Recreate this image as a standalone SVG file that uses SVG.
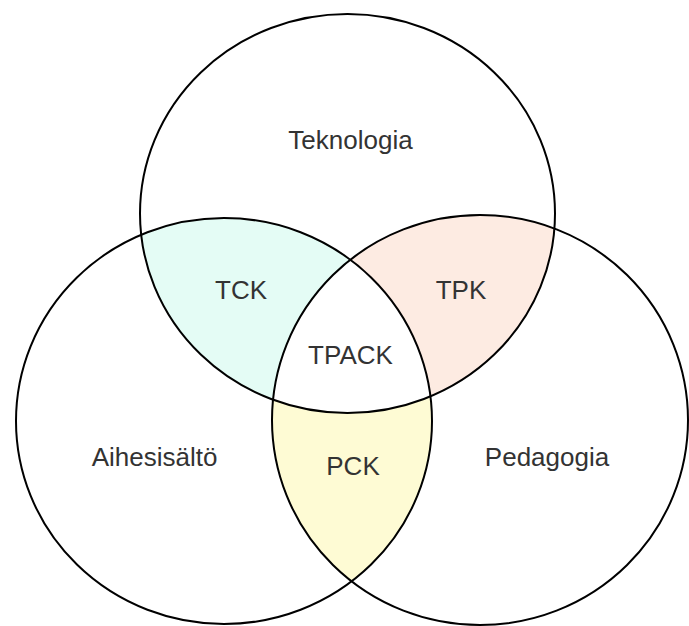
<svg xmlns="http://www.w3.org/2000/svg" width="689" height="626" viewBox="0 0 689 626">
  <style>
    .ring { fill: none; stroke: #000; stroke-width: 2; }
    .lbl { font-family: "Liberation Sans", Arial, sans-serif; font-size: 26px; fill: #333; text-anchor: middle; }
  </style>
  <defs>
    <clipPath id="clipTop"><ellipse cx="347.5" cy="213.5" rx="207.5" ry="199.5"/></clipPath>
    <clipPath id="clipRight"><ellipse cx="480" cy="420" rx="208" ry="205"/></clipPath>
  </defs>
  <rect width="689" height="626" fill="#fff"/>
  <g id="regions">
    <ellipse cx="224" cy="421" rx="208" ry="203" fill="#fefbd4" clip-path="url(#clipRight)"/>
    <g clip-path="url(#clipTop)">
      <ellipse cx="224" cy="421" rx="208" ry="203" fill="#e4fcf5"/>
      <ellipse cx="480" cy="420" rx="208" ry="205" fill="#fdebe2"/>
      <g clip-path="url(#clipRight)">
        <ellipse cx="224" cy="421" rx="208" ry="203" fill="#fff"/>
      </g>
    </g>
  </g>
  <g id="teknologia">
    <ellipse class="ring" cx="347.5" cy="213.5" rx="207.5" ry="199.5"/>
    <text class="lbl" x="350.5" y="149">Teknologia</text>
  </g>
  <g id="aihesisalto">
    <ellipse class="ring" cx="224" cy="421" rx="208" ry="203"/>
    <text class="lbl" x="154.5" y="466">Aihesisältö</text>
  </g>
  <g id="pedagogia">
    <ellipse class="ring" cx="480" cy="420" rx="208" ry="205"/>
    <text class="lbl" x="547" y="466">Pedagogia</text>
  </g>
  <g id="tck"><text class="lbl" x="241" y="299">TCK</text></g>
  <g id="tpk"><text class="lbl" x="461" y="299">TPK</text></g>
  <g id="tpack"><text class="lbl" x="350.5" y="364">TPACK</text></g>
  <g id="pck"><text class="lbl" x="353" y="475">PCK</text></g>
  <g id="connectors"/>
</svg>
